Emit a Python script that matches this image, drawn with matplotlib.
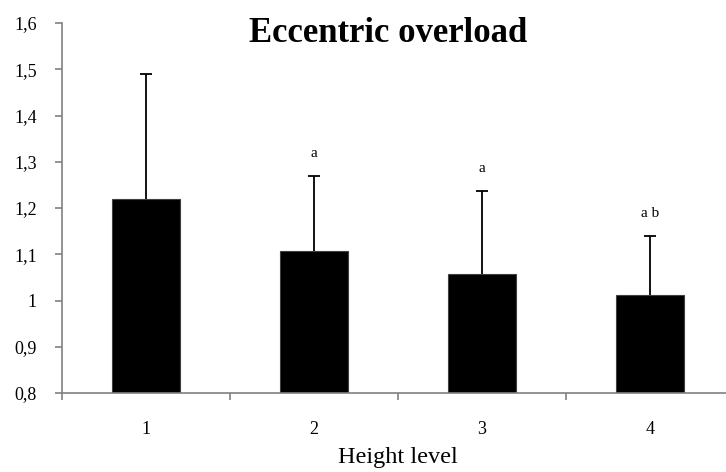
import matplotlib.pyplot as plt
import numpy as np

levels = ['1', '2', '3', '4']
means = [1.22, 1.108, 1.057, 1.011]
sd_up = [0.27, 0.161, 0.180, 0.128]
marks = ['', 'a', 'a', 'a b']
yticks = [0.8, 0.9, 1.0, 1.1, 1.2, 1.3, 1.4, 1.5, 1.6]
ytick_labels = ['0,8', '0,9', '1', '1,1', '1,2', '1,3', '1,4', '1,5', '1,6']

plt.rcParams['font.family'] = ['Liberation Serif', 'DejaVu Serif']

fig = plt.figure(figsize=(7.26, 4.72), dpi=100)
ax = fig.add_axes([62/726, 1-393/472, 672/726, 370/472])

x = np.arange(1, len(levels)+1)
ax.bar(x, [m-0.8 for m in means], bottom=0.8, width=0.4, color='black', edgecolor='#404040', linewidth=0.8, zorder=2)
eb = ax.errorbar(x, means, yerr=[np.zeros(len(x)), sd_up], fmt='none', ecolor='black',
                 elinewidth=1.3, capsize=4, capthick=1.3, zorder=3)
# only the upper cap is wanted
eb.lines[1][0].set_visible(False)
for xi, m, s, t in zip(x, means, sd_up, marks):
    ax.text(xi, m+s+0.035, t, ha='center', va='bottom', fontsize=11)

ax.set_xlim(0.5, 4.5)
ax.set_ylim(0.8, 1.6)
ax.set_yticks(yticks)
ax.set_yticklabels(ytick_labels, fontsize=13)
ax.set_xticks(x)
ax.set_xticklabels(levels, fontsize=13)
ax.set_xticks(np.arange(0.5, 4.6, 1.0), minor=True)
ax.tick_params(axis='x', which='major', length=0, pad=20)
ax.tick_params(axis='x', which='minor', length=5, color='#808080', width=1.2)
ax.tick_params(axis='y', length=5, color='#808080', width=1.2, pad=13)

for side in ['top', 'right']:
    ax.spines[side].set_visible(False)
for side in ['left', 'bottom']:
    ax.spines[side].set_color('#808080')
    ax.spines[side].set_linewidth(1.2)

ax.set_xlabel('Height level', fontsize=17.5, labelpad=7)
fig.text(388/726, 1-34/472, 'Eccentric overload', ha='center', va='center', fontsize=25, fontweight='bold')

fig.savefig('out.png', dpi=100)
